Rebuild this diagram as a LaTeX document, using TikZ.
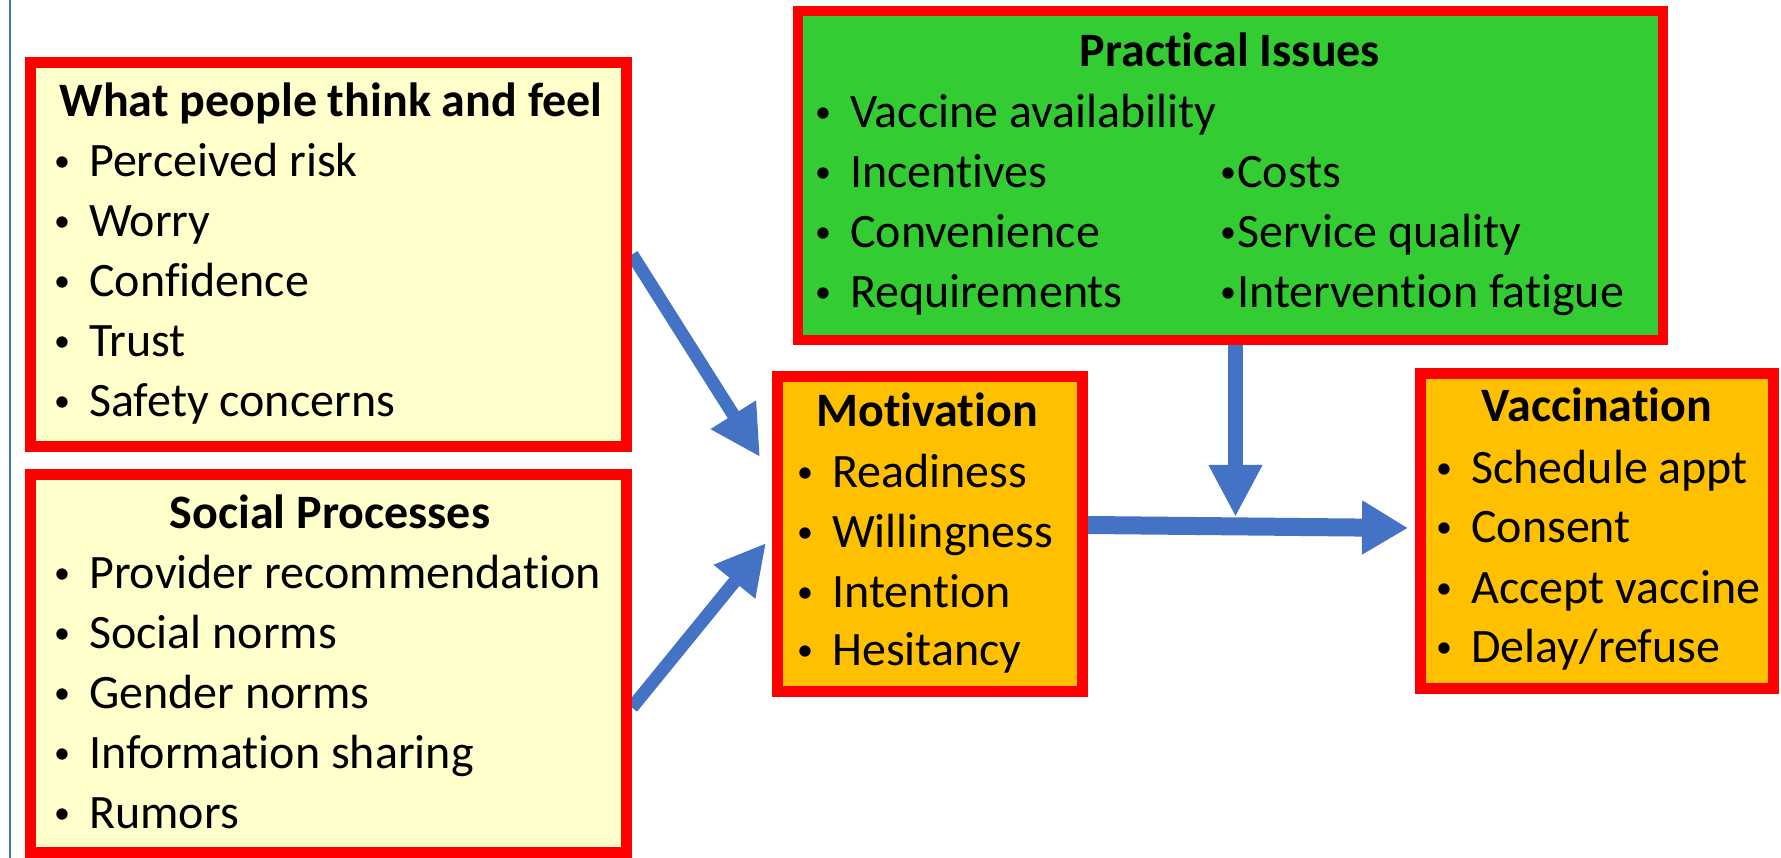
\documentclass[tikz,border=0pt]{standalone}
\usepackage{fontspec}
\setmainfont{Carlito}[Ligatures=NoCommon]
\usetikzlibrary{arrows.meta,calc}
\definecolor{boxred}{HTML}{FF0000}
\definecolor{paleyellow}{HTML}{FFFFCC}
\definecolor{leafgreen}{HTML}{33CC33}
\definecolor{amber}{HTML}{FFC000}
\definecolor{flowblue}{HTML}{4472C4}
\pgfdeclarelayer{back}
\pgfdeclarelayer{bg}
\pgfsetlayers{back,bg,main}
\tikzset{
  panel/.style={draw=boxred, line width=11pt, inner sep=0pt, rectangle},
  heading/.style={anchor=base, inner sep=0pt, font=\fontsize{48}{58}\selectfont\bfseries},
  entry/.style={anchor=base west, inner sep=0pt, font=\fontsize{48}{58}\selectfont},
  flow/.style={draw=flowblue, line width=#1, -{Triangle[length=50pt,width=50pt]}},
}
% small list bullet, followed by a fixed gap
\newcommand{\listdot}{\raisebox{5pt}{\fontsize{32}{32}\selectfont•}}
\newcommand{\bul}{\makebox[35pt][l]{\listdot}}
\newcommand{\tightbul}{\makebox[17pt][l]{\listdot}}
\begin{document}
\begin{tikzpicture}[x=1pt,y=-1pt]
\useasboundingbox (0,0) rectangle (1781,858);
\begin{pgfonlayer}{back}
\fill[white] (0,0) rectangle (1781,858);
\end{pgfonlayer}
% thin rule along the left edge
\draw[flowblue, line width=2pt] (10,0) -- (10,858);

% panels
\node[panel, fill=paleyellow, minimum width=596pt, minimum height=384pt] (think) at (328.5,254.5) {};
\node[panel, fill=paleyellow, minimum width=596pt, minimum height=378pt] (social) at (328.5,663.5) {};
\node[panel, line width=10pt, fill=leafgreen, minimum width=865pt, minimum height=329pt] (prac) at (1230.5,175.5) {};
\node[panel, fill=amber, minimum width=305pt, minimum height=315pt] (motiv) at (930,534) {};
\node[panel, fill=amber, minimum width=353pt, minimum height=315pt] (vacc) at (1597,531) {};

% What people think and feel
\node[heading] (thinkH) at (331,117) {What people think and feel};
\node[entry] (think1) at (54,177) {\bul Perceived risk};
\node[entry] (think2) at (54,237) {\bul Worry};
\node[entry] (think3) at (54,297) {\bul Confidence};
\node[entry] (think4) at (54,357) {\bul Trust};
\node[entry] (think5) at (54,417) {\bul Safety concerns};

% Social processes
\node[heading] (socialH) at (330,528) {Social Processes};
\node[entry] (social1) at (54,588) {\bul Provider recommendation};
\node[entry] (social2) at (54,648) {\bul Social norms};
\node[entry] (social3) at (54,708) {\bul Gender norms};
\node[entry] (social4) at (54,768) {\bul Information sharing};
\node[entry] (social5) at (54,828) {\bul Rumors};

% Practical issues
\node[heading] (pracH) at (1230,67) {Practical Issues};
\node[entry] (prac1) at (815,128) {\bul Vaccine availability};
\node[entry] (prac2) at (815,188) {\bul Incentives};
\node[entry] (prac3) at (815,248) {\bul Convenience};
\node[entry] (prac4) at (815,308) {\bul Requirements};
\node[entry] (prac5) at (1220,188) {\tightbul Costs};
\node[entry] (prac6) at (1220,248) {\tightbul Service quality};
\node[entry] (prac7) at (1220,308) {\tightbul Intervention fatigue};

% Motivation
\node[heading] (motivH) at (927,427) {Motivation};
\node[entry] (motiv1) at (797,487) {\bul Readiness};
\node[entry] (motiv2) at (797,547) {\bul Willingness};
\node[entry] (motiv3) at (797,607) {\bul Intention};
\node[entry] (motiv4) at (797,665) {\bul Hesitancy};

% Vaccination
\node[heading] (vaccH) at (1597,422) {Vaccination};
\node[entry] (vacc1) at (1436,483) {\bul Schedule appt};
\node[entry] (vacc2) at (1436,542) {\bul Consent};
\node[entry] (vacc3) at (1436,603) {\bul Accept vaccine};
\node[entry] (vacc4) at (1436,662) {\bul Delay/refuse};

% connectors, kept behind the panels
\begin{pgfonlayer}{bg}
\draw[flow=13pt] (think.east) -- ([xshift=-12pt,yshift=77pt]motiv.west);
\draw[flow=13pt] ([yshift=-44pt]social.east) -- ([xshift=-6pt,yshift=-9pt]motiv.west);
\draw[flow=18pt, -{Triangle[length=46pt,width=51pt]}] ([yshift=9pt]motiv.east) -- ([xshift=-7pt,yshift=3pt]vacc.west);
\draw[flow=15pt, -{Triangle[length=52pt,width=50pt]}] ([xshift=5pt]prac.south) -- ++(0,172);
\end{pgfonlayer}
\end{tikzpicture}
\end{document}
